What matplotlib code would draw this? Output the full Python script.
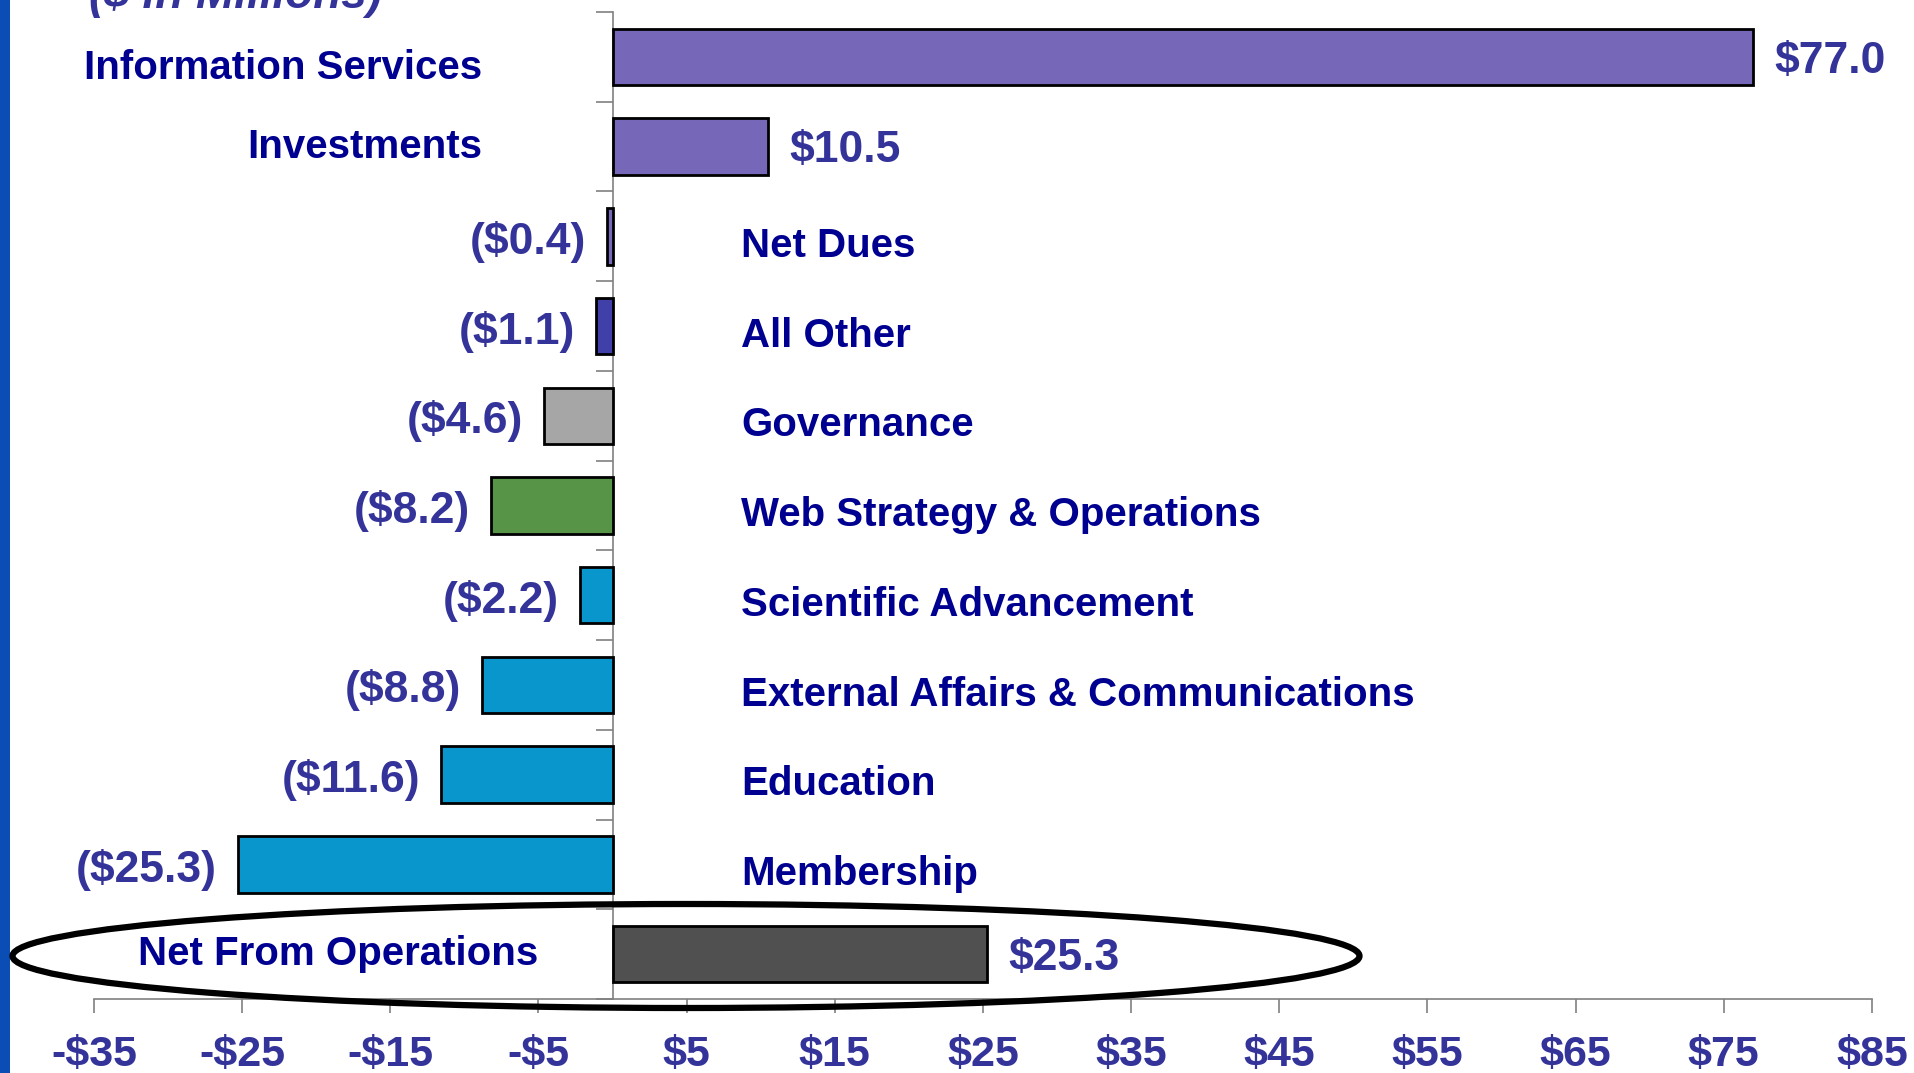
import numpy as np
import matplotlib
matplotlib.use("Agg")
import matplotlib.pyplot as plt
from matplotlib.patches import Ellipse, Rectangle

# data ($ in millions)
categories = ["Information Services", "Investments", "Net Dues", "All Other",
              "Governance", "Web Strategy & Operations", "Scientific Advancement",
              "External Affairs & Communications", "Education", "Membership",
              "Net From Operations"]
values = [77.0, 10.5, -0.4, -1.1, -4.6, -8.2, -2.2, -8.8, -11.6, -25.3, 25.3]
bar_colors = ["#7667B8", "#7667B8", "#7667B8", "#4040A8", "#A6A6A6", "#589448",
              "#0896CC", "#0896CC", "#0896CC", "#0896CC", "#505050"]
x_ticks = list(range(-35, 86, 10))
x_ticklabels = [("-$%d" % -t) if t < 0 else ("$%d" % t) for t in x_ticks]

cat_color = "#000090"
val_color = "#333399"
plt.rcParams['font.family'] = ['Liberation Sans', 'DejaVu Sans']

fig = plt.figure(figsize=(19.15, 10.73), dpi=100)
ax = fig.add_axes([0.0491, 0.069, 0.9284, 0.9198])

y = np.arange(len(categories))
ax.barh(y, values, height=0.63, color=bar_colors, edgecolor="black", linewidth=2.0, zorder=3)

ax.set_xlim(-35, 85)
ax.set_ylim(len(categories) - 0.5, -0.5)

# spines
for s in ["top", "right"]:
    ax.spines[s].set_visible(False)
ax.spines["left"].set_position(("data", 0))
ax.spines["left"].set_color("#808080")
ax.spines["bottom"].set_color("#808080")
ax.spines["left"].set_linewidth(1.2)
ax.spines["bottom"].set_linewidth(1.2)

ax.set_xticks(x_ticks)
ax.set_xticklabels(x_ticklabels, fontsize=31, fontweight="bold", color=val_color)
ax.tick_params(axis="x", direction="out", length=10, width=1.2, color="#808080", pad=16)
ax.set_yticks([])
ax.set_yticks(np.arange(len(categories) + 1) - 0.5, minor=True)
ax.tick_params(axis="y", which="minor", direction="out", length=12, width=1.2, color="#808080")

# labels
for i, (cat, v) in enumerate(zip(categories, values)):
    if v >= 0:
        ax.annotate("$%.1f" % v, (v, i), xytext=(15, -3), textcoords="offset points",
                    ha="left", va="center", fontsize=32, fontweight="bold", color=val_color)
        cx = -5.0 if cat == "Net From Operations" else -8.8
        dy = -8 if cat == "Information Services" else 0
        ax.annotate(cat, (cx, i), xytext=(0, dy), textcoords="offset points",
                    ha="right", va="center", fontsize=29, fontweight="bold", color=cat_color)
    else:
        ax.annotate("($%.1f)" % -v, (v, i), xytext=(-15, -4), textcoords="offset points",
                    ha="right", va="center", fontsize=32, fontweight="bold", color=val_color)
        ax.annotate(cat, (8.7, i), xytext=(0, -7), textcoords="offset points",
                    ha="left", va="center", fontsize=29, fontweight="bold", color=cat_color)

# circled total
ell = Ellipse((686 / 1915, 1 - 956 / 1073), 1347 / 1915, 104 / 1073, transform=fig.transFigure,
              fill=False, edgecolor="black", linewidth=4.5, zorder=10)
fig.patches.append(ell)

# slide edge bar
fig.patches.append(Rectangle((0, 0), 10 / 1915, 1, transform=fig.transFigure,
                             facecolor="#0A4DB5", edgecolor="none"))

# cut-off subtitle at top
fig.text(89 / 1915, 1 - 8 / 1073, "($ in Millions)", ha="left", va="baseline", fontsize=33,
         fontweight="bold", fontstyle="italic", color=val_color)

fig.savefig("out.png", dpi=100)
